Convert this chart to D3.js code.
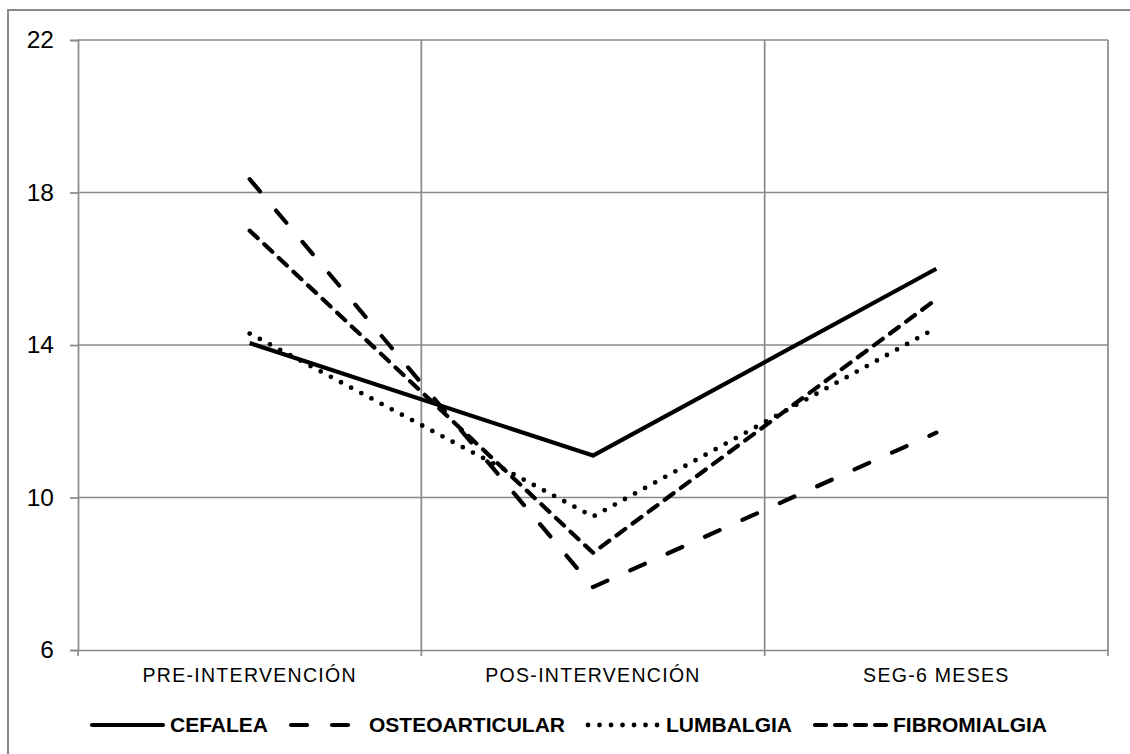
<!DOCTYPE html>
<html>
<head>
<meta charset="utf-8">
<script src="https://cdn.jsdelivr.net/npm/d3@7/dist/d3.min.js"></script>
<style>
  html, body { margin: 0; padding: 0; background: #fff; }
  svg { display: block; font-family: "Liberation Sans", Arial, sans-serif; }
</style>
</head>
<body>
<svg id="chart" width="1130" height="754"></svg>
<script>
// Periods measured
const categories = ["PRE-INTERVENCIÓN", "POS-INTERVENCIÓN", "SEG-6 MESES"];
const yTicks = [6, 10, 14, 18, 22];

// Scores per group
const cefalea        = [14.05, 11.1, 16.0];
const osteoarticular = [18.35, 7.65, 11.7];
const lumbalgia      = [14.3, 9.5, 14.45];
const fibromialgia   = [17.0, 8.55, 15.2];

const seriesNames = ["CEFALEA", "OSTEOARTICULAR", "LUMBALGIA", "FIBROMIALGIA"];
const seriesValues = [cefalea, osteoarticular, lumbalgia, fibromialgia];

// Stroke styles for each group
const styles = [
  { dash: null,     width: 4.2 },
  { dash: "16 25",  width: 4.2 },
  { dash: "0 11.5", width: 4.8 },
  { dash: "11 9",   width: 4.2 }
];

const svg = d3.select("#chart");
const plot = { left: 78, right: 1108, top: 40, bottom: 650 };
const grid = "#898989";
const font = "'Liberation Sans', Arial, sans-serif";

// Outer chart frame
svg.append("rect")
  .attr("x", 8).attr("y", 10)
  .attr("width", 1140).attr("height", 770)
  .attr("fill", "none").attr("stroke", grid).attr("stroke-width", 2);

const x = d3.scaleBand().domain(categories).range([plot.left, plot.right]);
const y = d3.scaleLinear().domain([6, 22]).range([plot.bottom, plot.top]);

// Horizontal gridlines
svg.append("g").selectAll("line")
  .data(yTicks.filter(t => t > 6))
  .join("line")
  .attr("x1", plot.left).attr("x2", plot.right)
  .attr("y1", d => y(d)).attr("y2", d => y(d))
  .attr("stroke", grid).attr("stroke-width", 1.7);

// Vertical gridlines at category boundaries
svg.append("g").selectAll("line")
  .data(categories)
  .join("line")
  .attr("x1", d => x(d) + x.bandwidth()).attr("x2", d => x(d) + x.bandwidth())
  .attr("y1", plot.top).attr("y2", plot.bottom)
  .attr("stroke", grid).attr("stroke-width", 1.7);

// Y axis
const yAxis = svg.append("g")
  .attr("transform", `translate(${plot.left},0)`)
  .call(d3.axisLeft(y).tickValues(yTicks).tickSize(8).tickPadding(16).tickFormat(d3.format("d")))
  .attr("font-family", font)
  .attr("font-size", 24.5);
yAxis.select(".domain").attr("stroke", grid).attr("stroke-width", 1.7);
yAxis.selectAll(".tick line").attr("stroke", grid).attr("stroke-width", 1.7);
yAxis.selectAll(".tick text").attr("fill", "#000");

// X axis
const xAxis = svg.append("g")
  .attr("transform", `translate(0,${plot.bottom})`)
  .call(d3.axisBottom(x).tickSize(0).tickPadding(18))
  .attr("font-family", font)
  .attr("font-size", 19.5);
xAxis.select(".domain").attr("stroke", grid).attr("stroke-width", 1.7);
xAxis.selectAll(".tick text")
  .attr("fill", "#000")
  .style("letter-spacing", "1.3px");
// Tick marks at category boundaries
svg.append("g").selectAll("line")
  .data([plot.left].concat(categories.map(c => x(c) + x.bandwidth())))
  .join("line")
  .attr("x1", d => d).attr("x2", d => d)
  .attr("y1", plot.bottom).attr("y2", plot.bottom + 6)
  .attr("stroke", grid).attr("stroke-width", 1.7);

// Series lines
const line = d3.line()
  .x((d, i) => x(categories[i]) + x.bandwidth() / 2)
  .y(d => y(d));

svg.append("g").selectAll("path")
  .data(seriesValues)
  .join("path")
  .attr("d", d => line(d))
  .attr("fill", "none")
  .attr("stroke", "#000")
  .attr("stroke-width", (d, i) => styles[i].width)
  .attr("stroke-dasharray", (d, i) => styles[i].dash)
  .attr("stroke-linecap", (d, i) => styles[i].dash ? "round" : "butt")
  .attr("stroke-linejoin", "round");

// Legend
const legend = svg.append("g");
const sampleLen = 71, sampleGap = 7, itemGap = 23, legendY = 725;
const items = legend.selectAll("g")
  .data(seriesNames)
  .join("g");
items.append("text")
  .attr("y", legendY + 7)
  .style("font-size", "21px")
  .style("font-weight", "bold")
  .attr("fill", "#000")
  .text(d => d);
const widths = [];
items.select("text").each(function () { widths.push(this.getComputedTextLength()); });
let cursor = 92;
items.each(function (d, i) {
  const g = d3.select(this).attr("transform", `translate(${cursor},0)`);
  g.insert("line", "text")
    .attr("x1", 0).attr("x2", sampleLen)
    .attr("y1", legendY).attr("y2", legendY)
    .attr("stroke", "#000")
    .attr("stroke-width", styles[i].width)
    .attr("stroke-dasharray", styles[i].dash)
    .attr("stroke-linecap", "round");
  g.select("text").attr("x", sampleLen + sampleGap);
  cursor += sampleLen + sampleGap + widths[i] + itemGap;
});
</script>
</body>
</html>
